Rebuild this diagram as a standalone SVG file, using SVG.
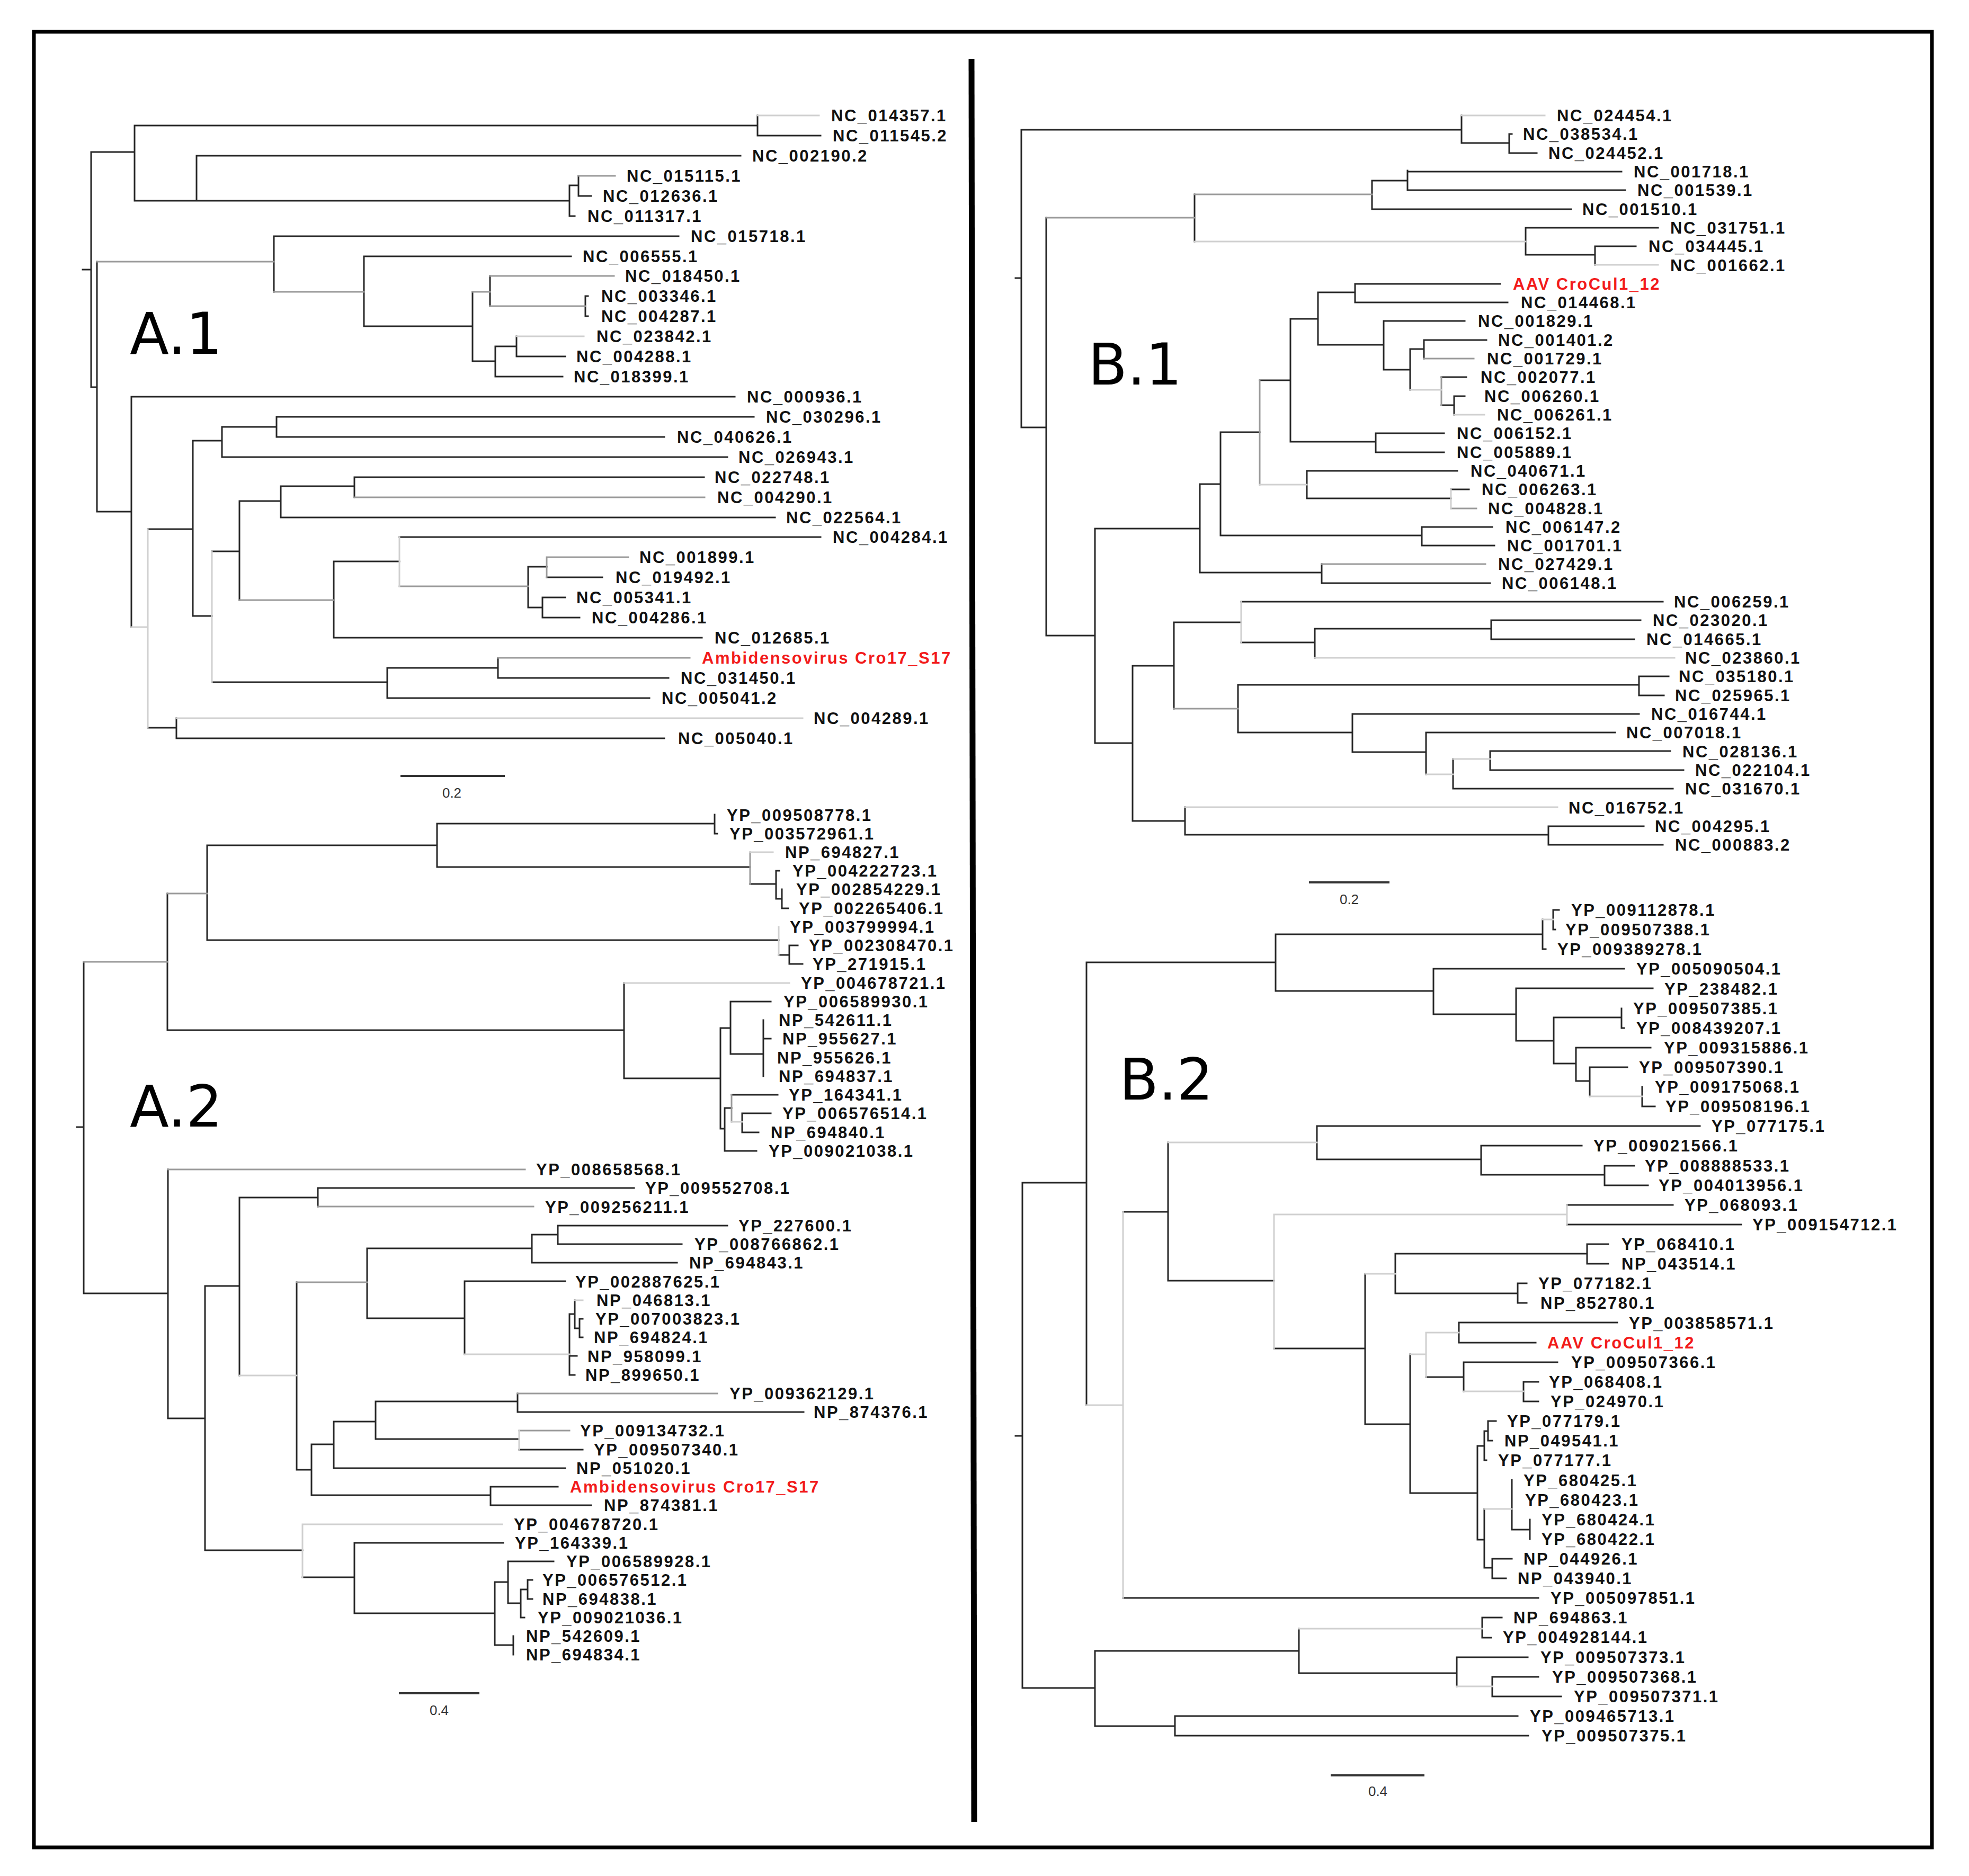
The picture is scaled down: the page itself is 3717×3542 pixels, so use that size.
<svg xmlns="http://www.w3.org/2000/svg" width="3717" height="3542" viewBox="0 0 3717 3542">
<style>
.k{stroke:#262626;stroke-width:3;fill:none;stroke-linecap:square}
.g{stroke:#9a9a9a;stroke-width:3;fill:none;stroke-linecap:square}
.l{stroke:#d0d0d0;stroke-width:3;fill:none;stroke-linecap:square}
.t{font-family:"Liberation Sans",Arial,sans-serif;font-weight:700;font-size:31px;letter-spacing:2.5px;fill:#111}
.r{fill:#f21b1b}
.p{font-family:"DejaVu Sans",sans-serif;font-size:108px;fill:#000}
.s{font-family:"Liberation Sans",Arial,sans-serif;font-size:26px;fill:#333;text-anchor:middle}
.sb{stroke:#333;stroke-width:4;fill:none}
</style>
<rect x="0" y="0" width="3717" height="3542" fill="#fff"/>
<rect id="frame" x="64" y="60" width="3583" height="3428" fill="none" stroke="#000" stroke-width="7"/>
<line id="divider" x1="1834" y1="111" x2="1839" y2="3440" stroke="#000" stroke-width="11"/>
<g id="connectors">
<g id="a1-branches">
<path class="k" d="M156 509H172M172 287V731M172 287H254M172 731H183M183 494V966M183 966H248M254 237V379M254 237H1430M254 379H371M1430 218V256M1430 256H1549M371 294V379M371 294H1398M371 379H1075M1075 350V408M1075 350H1092M1075 408H1085M1092 332V370M1092 370H1116M517 446V551M517 446H1281M687 484V616M687 484H1078M687 616H892M892 551V682M892 682H935M925 521V578M1105 559V597M1105 559H1110M1105 597H1110M935 654V711M935 654H975M935 711H1062M975 635V673M975 673H1067M248 749V1184M248 749H1387M279 999H364M279 1374H333M333 1356V1394M333 1394H1254M364 832V1163M364 832H419M364 1163H400M419 806V863M419 806H522M419 863H1373M522 787V825M522 787H1423M522 825H1254M400 1041H452M400 1288H731M452 946V1133M452 946H530M530 918V977M530 918H669M530 977H1463M669 901V939M669 901H1329M630 1060V1204M630 1060H754M630 1204H1325M754 1014H1549M997 1070V1147M997 1070H1032M997 1147H1024M1032 1090H1137M1024 1128V1166M1024 1128H1067M1024 1166H1094M731 1261V1318M731 1261H940M731 1318H1226M940 1242V1280M940 1280H1262"/>
<path class="g" d="M183 494H517M1092 332H1161M517 551H687M892 551H925M925 521H1159M925 578H1105M669 939H1330M452 1133H630M754 1107H997M1032 1052V1090M1032 1052H1186M940 1242H1302"/>
<path class="l" d="M1430 218H1546M975 635H1102M248 1184H279M279 999V1374M333 1356H1515M754 1014V1107M400 1041V1288"/>
<path class="sb" d="M756 1465H953"/>
</g>
<g id="a2-branches">
<path class="k" d="M145 2128H158M158 1816V2442M158 2442H317M316 1687V1945M316 1945H1178M391 1596V1775M391 1596H825M391 1775H1470M825 1555V1637M825 1555H1349M825 1637H1416M1349 1538V1574M1349 1574H1354M1416 1669H1465M1465 1644V1697M1465 1644H1471M1465 1697H1476M1476 1679V1715M1476 1715H1488M1470 1803H1490M1490 1785V1820M1490 1785H1506M1490 1820H1515M1178 1856V2036M1178 2036H1360M1360 1941V2131M1360 1941H1379M1360 2131H1368M1379 1891V1990M1379 1891H1455M1379 1990H1441M1441 1926V2032M1441 1961H1455M1368 2092V2173M1368 2092H1381M1368 2173H1428M1381 2067H1468M1401 2102V2138M1401 2102H1455M1401 2138H1432M317 2208V2678M317 2678H387M387 2428V2927M387 2428H452M387 2927H571M452 2261V2597M452 2261H600M600 2243V2278M600 2243H1197M560 2421V2775M560 2775H588M693 2357V2489M693 2357H1004M693 2489H877M1004 2331V2384M1004 2331H1053M1004 2384H1278M1053 2314V2349M1053 2314H1373M1053 2349H1287M877 2419V2557M877 2419H1067M1075 2481V2596M1075 2481H1085M1075 2560H1089M1075 2596H1085M1085 2455V2508M1085 2508H1094M1094 2490V2525M1094 2490H1100M1094 2525H1100M588 2727V2823M588 2727H630M588 2823H926M630 2684V2772M630 2684H709M630 2772H1067M709 2646V2717M709 2646H977M709 2717H980M977 2631V2666M977 2666H1517M980 2737H1100M926 2807V2842M926 2807H1053M926 2842H1116M571 2978H669M669 2913V3046M669 2913H950M669 3046H934M934 2987V3106M934 2987H959M934 3106H969M959 2948V3027M959 2948H1045M959 3027H983M983 3001V3054M983 3001H996M983 3054H990M996 2983V3019M996 2983H1005M996 3019H1005M969 3089V3124"/>
<path class="g" d="M158 1816H316M316 1687H391M1416 1609V1669M1381 2067V2118M317 2208H991M600 2278H1007M560 2421H693M977 2631H1354M980 2701H1075"/>
<path class="l" d="M1416 1609H1459M1470 1750V1803M1178 1856H1490M1381 2118H1401M452 2597H560M877 2557H1075M1085 2455H1100M980 2701V2737M571 2878V2978M571 2878H948"/>
<path class="sb" d="M753 3197H905"/>
</g>
<g id="b1-branches">
<path class="k" d="M1917 525H1928M1928 245V807M1928 245H2759M1928 807H1975M2759 218V270M2759 270H2849M2849 253V289M2849 253H2854M2849 289H2901M1975 411V1200M1975 1200H2067M2255 367V456M2590 341V395M2590 341H2657M2590 395H2966M2657 322V359M2657 324H3061M2657 359H3068M2880 430V481M2880 430H3130M2880 481H3011M3011 465V500M3011 465H3088M2067 998V1403M2067 998H2265M2067 1403H2138M2265 914V1081M2265 914H2304M2265 1081H2495M2304 816V1011M2304 816H2378M2304 1011H2684M2378 718H2436M2436 602V834M2436 602H2488M2436 834H2597M2488 552V651M2488 552H2558M2488 651H2612M2558 536V571M2558 536H2832M2558 571H2846M2612 606V698M2612 606H2765M2612 698H2662M2662 659V736M2662 659H2688M2688 642V677M2688 642H2806M2721 712H2768M2721 765H2745M2745 748V783M2745 748H2765M2597 818V854M2597 818H2726M2597 854H2726M2467 889V941M2467 889H2751M2467 941H2739M2739 924H2773M2684 995V1030M2684 995H2817M2684 1030H2821M2495 1065V1101M2495 1101H2813M2138 1257V1550M2138 1257H2216M2138 1550H2237M2216 1175V1338M2216 1175H2343M2343 1136H3139M2343 1213H2482M2482 1187V1242M2482 1187H2815M2815 1171V1207M2815 1171H3097M2815 1207H3085M2337 1293V1383M2337 1293H3094M2337 1383H2553M3094 1277V1313M3094 1277H3150M3094 1313H3141M2553 1348V1420M2553 1348H3094M2553 1420H2692M2692 1383V1462M2692 1383H3049M2743 1433V1489M2743 1489H3158M2813 1418V1454M2813 1418H3153M2813 1454H3178M2237 1524V1576M2237 1576H2923M2923 1560V1595M2923 1560H3103M2923 1595H3139"/>
<path class="g" d="M1975 411H2255M2255 367H2590M2378 718V915M2688 677H2782M2721 712V765M2739 960H2787M2495 1065H2804M2216 1338H2337"/>
<path class="l" d="M2759 218H2916M2255 456H2880M3011 500H3130M2378 915H2467M2662 736H2721M2745 783H2802M2739 924V960M2343 1136V1213M2482 1242H3161M2692 1462H2743M2743 1433H2813M2237 1524H2940"/>
<path class="sb" d="M2471 1666H2623"/>
</g>
<g id="b2-branches">
<path class="k" d="M1917 2711H1930M1930 2233V3187M1930 2233H2051M1930 3187H2067M2051 1817V2653M2051 1817H2408M2408 1764V1871M2408 1764H2912M2408 1871H2706M2912 1736V1792M2912 1792H2918M2932 1718V1755M2932 1718H2943M2932 1755H2936M2706 1829V1915M2706 1829H3066M2706 1915H2862M2862 1866V1965M2862 1866H3120M2862 1965H2933M2933 1921V2008M2933 1921H3061M2933 2008H2975M3061 1904V1941M3061 1941H3066M2975 1978V2041M2975 1978H3116M2975 2041H3001M3001 2015V2070M3001 2015H3072M3100 2052V2089M3100 2089H3124M2120 2288H2205M2120 3017H2904M2205 2157V2418M2205 2418H2405M2486 2126V2189M2486 2126H3209M2486 2189H2796M2796 2163V2218M2796 2163H2986M2796 2218H3029M3029 2201V2238M3029 2201H3085M3029 2238H3111M2405 2546H2577M2958 2275H3158M2958 2312H3287M2577 2405V2689M2577 2689H2662M2634 2367V2442M2634 2367H2996M2634 2442H2865M2996 2349V2386M2996 2349H3036M2996 2386H3036M2865 2423V2460M2865 2423H2882M2865 2460H2882M2662 2557V2819M2662 2819H2789M2692 2600H2763M2754 2497V2535M2754 2497H3053M2754 2535H2899M2763 2572V2627M2763 2572H2940M2876 2609V2646M2876 2609H2904M2876 2646H2904M2789 2730V2907M2789 2730H2802M2789 2907H2802M2802 2702V2757M2802 2702H2809M2802 2757H2806M2809 2683V2720M2809 2683H2824M2809 2720H2817M2802 2849V2960M2802 2960H2817M2854 2794V2888M2854 2888H2888M2888 2869V2906M2817 2943V2980M2817 2943H2854M2817 2980H2843M2067 3117V3259M2067 3117H2452M2067 3259H2218M2452 3075V3159M2452 3159H2750M2798 3054V3092M2798 3054H2835M2798 3092H2815M2750 3129V3184M2750 3129H2884M2817 3166V3203M2817 3166H2904M2817 3203H2947M2218 3240V3277M2218 3240H2865M2218 3277H2885"/>
<path class="l" d="M2051 2653H2120M2912 1736H2932M3001 2070H3100M2120 2288V3017M2205 2157H2486M2405 2293V2546M2405 2293H2958M2958 2275V2312M2577 2405H2634M2662 2557H2692M2692 2516V2600M2692 2516H2754M2763 2627H2876M2802 2849H2854M2452 3075H2798M2750 3184H2817"/>
<path class="sb" d="M2512 3352H2689"/>
</g>
</g>
<g id="panel-labels">
<g id="label-A1"><text class="p" x="245" y="668">A.1</text></g>
<g id="label-A2"><text class="p" x="245" y="2127">A.2</text></g>
<g id="label-B1"><text class="p" x="2054" y="726">B.1</text></g>
<g id="label-B2"><text class="p" x="2113" y="2076">B.2</text></g>
<g id="scale-A1"><text class="s" x="853" y="1506">0.2</text></g>
<g id="scale-A2"><text class="s" x="829" y="3238">0.4</text></g>
<g id="scale-B1"><text class="s" x="2547" y="1707">0.2</text></g>
<g id="scale-B2"><text class="s" x="2601" y="3391">0.4</text></g>
</g>
<g id="a1-nodes">
<g id="a1-1"><text class="t" x="1569" y="229">NC_014357.1</text></g>
<g id="a1-2"><text class="t" x="1572" y="267">NC_011545.2</text></g>
<g id="a1-3"><text class="t" x="1420" y="305">NC_002190.2</text></g>
<g id="a1-4"><text class="t" x="1183" y="343">NC_015115.1</text></g>
<g id="a1-5"><text class="t" x="1138" y="381">NC_012636.1</text></g>
<g id="a1-6"><text class="t" x="1109" y="419">NC_011317.1</text></g>
<g id="a1-7"><text class="t" x="1304" y="457">NC_015718.1</text></g>
<g id="a1-8"><text class="t" x="1100" y="495">NC_006555.1</text></g>
<g id="a1-9"><text class="t" x="1180" y="532">NC_018450.1</text></g>
<g id="a1-10"><text class="t" x="1135" y="570">NC_003346.1</text></g>
<g id="a1-11"><text class="t" x="1135" y="608">NC_004287.1</text></g>
<g id="a1-12"><text class="t" x="1126" y="646">NC_023842.1</text></g>
<g id="a1-13"><text class="t" x="1088" y="684">NC_004288.1</text></g>
<g id="a1-14"><text class="t" x="1083" y="722">NC_018399.1</text></g>
<g id="a1-15"><text class="t" x="1410" y="760">NC_000936.1</text></g>
<g id="a1-16"><text class="t" x="1446" y="798">NC_030296.1</text></g>
<g id="a1-17"><text class="t" x="1278" y="836">NC_040626.1</text></g>
<g id="a1-18"><text class="t" x="1394" y="874">NC_026943.1</text></g>
<g id="a1-19"><text class="t" x="1349" y="912">NC_022748.1</text></g>
<g id="a1-20"><text class="t" x="1354" y="950">NC_004290.1</text></g>
<g id="a1-21"><text class="t" x="1484" y="988">NC_022564.1</text></g>
<g id="a1-22"><text class="t" x="1572" y="1025">NC_004284.1</text></g>
<g id="a1-23"><text class="t" x="1207" y="1063">NC_001899.1</text></g>
<g id="a1-24"><text class="t" x="1162" y="1101">NC_019492.1</text></g>
<g id="a1-25"><text class="t" x="1088" y="1139">NC_005341.1</text></g>
<g id="a1-26"><text class="t" x="1117" y="1177">NC_004286.1</text></g>
<g id="a1-27"><text class="t" x="1349" y="1215">NC_012685.1</text></g>
<g id="a1-28"><text class="t r" x="1325" y="1253">Ambidensovirus Cro17_S17</text></g>
<g id="a1-29"><text class="t" x="1285" y="1291">NC_031450.1</text></g>
<g id="a1-30"><text class="t" x="1249" y="1329">NC_005041.2</text></g>
<g id="a1-31"><text class="t" x="1536" y="1367">NC_004289.1</text></g>
<g id="a1-32"><text class="t" x="1280" y="1405">NC_005040.1</text></g>
</g>
<g id="a2-nodes">
<g id="a2-1"><text class="t" x="1372" y="1550">YP_009508778.1</text></g>
<g id="a2-2"><text class="t" x="1377" y="1585">YP_003572961.1</text></g>
<g id="a2-3"><text class="t" x="1482" y="1620">NP_694827.1</text></g>
<g id="a2-4"><text class="t" x="1496" y="1655">YP_004222723.1</text></g>
<g id="a2-5"><text class="t" x="1503" y="1690">YP_002854229.1</text></g>
<g id="a2-6"><text class="t" x="1508" y="1726">YP_002265406.1</text></g>
<g id="a2-7"><text class="t" x="1491" y="1761">YP_003799994.1</text></g>
<g id="a2-8"><text class="t" x="1527" y="1796">YP_002308470.1</text></g>
<g id="a2-9"><text class="t" x="1534" y="1831">YP_271915.1</text></g>
<g id="a2-10"><text class="t" x="1512" y="1867">YP_004678721.1</text></g>
<g id="a2-11"><text class="t" x="1479" y="1902">YP_006589930.1</text></g>
<g id="a2-12"><text class="t" x="1470" y="1937">NP_542611.1</text></g>
<g id="a2-13"><text class="t" x="1477" y="1972">NP_955627.1</text></g>
<g id="a2-14"><text class="t" x="1467" y="2008">NP_955626.1</text></g>
<g id="a2-15"><text class="t" x="1470" y="2043">NP_694837.1</text></g>
<g id="a2-16"><text class="t" x="1489" y="2078">YP_164341.1</text></g>
<g id="a2-17"><text class="t" x="1477" y="2113">YP_006576514.1</text></g>
<g id="a2-18"><text class="t" x="1455" y="2149">NP_694840.1</text></g>
<g id="a2-19"><text class="t" x="1451" y="2184">YP_009021038.1</text></g>
<g id="a2-20"><text class="t" x="1012" y="2219">YP_008658568.1</text></g>
<g id="a2-21"><text class="t" x="1218" y="2254">YP_009552708.1</text></g>
<g id="a2-22"><text class="t" x="1029" y="2290">YP_009256211.1</text></g>
<g id="a2-23"><text class="t" x="1394" y="2325">YP_227600.1</text></g>
<g id="a2-24"><text class="t" x="1311" y="2360">YP_008766862.1</text></g>
<g id="a2-25"><text class="t" x="1301" y="2395">NP_694843.1</text></g>
<g id="a2-26"><text class="t" x="1086" y="2431">YP_002887625.1</text></g>
<g id="a2-27"><text class="t" x="1126" y="2466">NP_046813.1</text></g>
<g id="a2-28"><text class="t" x="1124" y="2501">YP_007003823.1</text></g>
<g id="a2-29"><text class="t" x="1121" y="2536">NP_694824.1</text></g>
<g id="a2-30"><text class="t" x="1109" y="2572">NP_958099.1</text></g>
<g id="a2-31"><text class="t" x="1105" y="2607">NP_899650.1</text></g>
<g id="a2-32"><text class="t" x="1377" y="2642">YP_009362129.1</text></g>
<g id="a2-33"><text class="t" x="1536" y="2677">NP_874376.1</text></g>
<g id="a2-34"><text class="t" x="1095" y="2712">YP_009134732.1</text></g>
<g id="a2-35"><text class="t" x="1121" y="2748">YP_009507340.1</text></g>
<g id="a2-36"><text class="t" x="1088" y="2783">NP_051020.1</text></g>
<g id="a2-37"><text class="t r" x="1076" y="2818">Ambidensovirus Cro17_S17</text></g>
<g id="a2-38"><text class="t" x="1140" y="2853">NP_874381.1</text></g>
<g id="a2-39"><text class="t" x="970" y="2889">YP_004678720.1</text></g>
<g id="a2-40"><text class="t" x="972" y="2924">YP_164339.1</text></g>
<g id="a2-41"><text class="t" x="1069" y="2959">YP_006589928.1</text></g>
<g id="a2-42"><text class="t" x="1024" y="2994">YP_006576512.1</text></g>
<g id="a2-43"><text class="t" x="1024" y="3030">NP_694838.1</text></g>
<g id="a2-44"><text class="t" x="1015" y="3065">YP_009021036.1</text></g>
<g id="a2-45"><text class="t" x="993" y="3100">NP_542609.1</text></g>
<g id="a2-46"><text class="t" x="993" y="3135">NP_694834.1</text></g>
</g>
<g id="b1-nodes">
<g id="b1-1"><text class="t" x="2939" y="229">NC_024454.1</text></g>
<g id="b1-2"><text class="t" x="2875" y="264">NC_038534.1</text></g>
<g id="b1-3"><text class="t" x="2923" y="300">NC_024452.1</text></g>
<g id="b1-4"><text class="t" x="3084" y="335">NC_001718.1</text></g>
<g id="b1-5"><text class="t" x="3091" y="370">NC_001539.1</text></g>
<g id="b1-6"><text class="t" x="2987" y="406">NC_001510.1</text></g>
<g id="b1-7"><text class="t" x="3153" y="441">NC_031751.1</text></g>
<g id="b1-8"><text class="t" x="3112" y="476">NC_034445.1</text></g>
<g id="b1-9"><text class="t" x="3153" y="512">NC_001662.1</text></g>
<g id="b1-10"><text class="t r" x="2856" y="547">AAV CroCul1_12</text></g>
<g id="b1-11"><text class="t" x="2871" y="582">NC_014468.1</text></g>
<g id="b1-12"><text class="t" x="2790" y="617">NC_001829.1</text></g>
<g id="b1-13"><text class="t" x="2828" y="653">NC_001401.2</text></g>
<g id="b1-14"><text class="t" x="2807" y="688">NC_001729.1</text></g>
<g id="b1-15"><text class="t" x="2795" y="723">NC_002077.1</text></g>
<g id="b1-16"><text class="t" x="2802" y="759">NC_006260.1</text></g>
<g id="b1-17"><text class="t" x="2826" y="794">NC_006261.1</text></g>
<g id="b1-18"><text class="t" x="2750" y="829">NC_006152.1</text></g>
<g id="b1-19"><text class="t" x="2750" y="865">NC_005889.1</text></g>
<g id="b1-20"><text class="t" x="2776" y="900">NC_040671.1</text></g>
<g id="b1-21"><text class="t" x="2797" y="935">NC_006263.1</text></g>
<g id="b1-22"><text class="t" x="2809" y="971">NC_004828.1</text></g>
<g id="b1-23"><text class="t" x="2842" y="1006">NC_006147.2</text></g>
<g id="b1-24"><text class="t" x="2845" y="1041">NC_001701.1</text></g>
<g id="b1-25"><text class="t" x="2828" y="1076">NC_027429.1</text></g>
<g id="b1-26"><text class="t" x="2835" y="1112">NC_006148.1</text></g>
<g id="b1-27"><text class="t" x="3160" y="1147">NC_006259.1</text></g>
<g id="b1-28"><text class="t" x="3120" y="1182">NC_023020.1</text></g>
<g id="b1-29"><text class="t" x="3108" y="1218">NC_014665.1</text></g>
<g id="b1-30"><text class="t" x="3181" y="1253">NC_023860.1</text></g>
<g id="b1-31"><text class="t" x="3169" y="1288">NC_035180.1</text></g>
<g id="b1-32"><text class="t" x="3162" y="1324">NC_025965.1</text></g>
<g id="b1-33"><text class="t" x="3117" y="1359">NC_016744.1</text></g>
<g id="b1-34"><text class="t" x="3070" y="1394">NC_007018.1</text></g>
<g id="b1-35"><text class="t" x="3176" y="1430">NC_028136.1</text></g>
<g id="b1-36"><text class="t" x="3200" y="1465">NC_022104.1</text></g>
<g id="b1-37"><text class="t" x="3181" y="1500">NC_031670.1</text></g>
<g id="b1-38"><text class="t" x="2961" y="1536">NC_016752.1</text></g>
<g id="b1-39"><text class="t" x="3124" y="1571">NC_004295.1</text></g>
<g id="b1-40"><text class="t" x="3162" y="1606">NC_000883.2</text></g>
</g>
<g id="b2-nodes">
<g id="b2-1"><text class="t" x="2966" y="1729">YP_009112878.1</text></g>
<g id="b2-2"><text class="t" x="2955" y="1766">YP_009507388.1</text></g>
<g id="b2-3"><text class="t" x="2940" y="1803">YP_009389278.1</text></g>
<g id="b2-4"><text class="t" x="3089" y="1840">YP_005090504.1</text></g>
<g id="b2-5"><text class="t" x="3142" y="1878">YP_238482.1</text></g>
<g id="b2-6"><text class="t" x="3083" y="1915">YP_009507385.1</text></g>
<g id="b2-7"><text class="t" x="3089" y="1952">YP_008439207.1</text></g>
<g id="b2-8"><text class="t" x="3141" y="1989">YP_009315886.1</text></g>
<g id="b2-9"><text class="t" x="3094" y="2026">YP_009507390.1</text></g>
<g id="b2-10"><text class="t" x="3124" y="2063">YP_009175068.1</text></g>
<g id="b2-11"><text class="t" x="3144" y="2100">YP_009508196.1</text></g>
<g id="b2-12"><text class="t" x="3231" y="2137">YP_077175.1</text></g>
<g id="b2-13"><text class="t" x="3008" y="2174">YP_009021566.1</text></g>
<g id="b2-14"><text class="t" x="3105" y="2212">YP_008888533.1</text></g>
<g id="b2-15"><text class="t" x="3131" y="2249">YP_004013956.1</text></g>
<g id="b2-16"><text class="t" x="3180" y="2286">YP_068093.1</text></g>
<g id="b2-17"><text class="t" x="3308" y="2323">YP_009154712.1</text></g>
<g id="b2-18"><text class="t" x="3061" y="2360">YP_068410.1</text></g>
<g id="b2-19"><text class="t" x="3061" y="2397">NP_043514.1</text></g>
<g id="b2-20"><text class="t" x="2904" y="2434">YP_077182.1</text></g>
<g id="b2-21"><text class="t" x="2908" y="2471">NP_852780.1</text></g>
<g id="b2-22"><text class="t" x="3075" y="2509">YP_003858571.1</text></g>
<g id="b2-23"><text class="t r" x="2921" y="2546">AAV CroCul1_12</text></g>
<g id="b2-24"><text class="t" x="2966" y="2583">YP_009507366.1</text></g>
<g id="b2-25"><text class="t" x="2924" y="2620">YP_068408.1</text></g>
<g id="b2-26"><text class="t" x="2927" y="2657">YP_024970.1</text></g>
<g id="b2-27"><text class="t" x="2845" y="2694">YP_077179.1</text></g>
<g id="b2-28"><text class="t" x="2840" y="2731">NP_049541.1</text></g>
<g id="b2-29"><text class="t" x="2828" y="2768">YP_077177.1</text></g>
<g id="b2-30"><text class="t" x="2876" y="2806">YP_680425.1</text></g>
<g id="b2-31"><text class="t" x="2879" y="2843">YP_680423.1</text></g>
<g id="b2-32"><text class="t" x="2910" y="2880">YP_680424.1</text></g>
<g id="b2-33"><text class="t" x="2910" y="2917">YP_680422.1</text></g>
<g id="b2-34"><text class="t" x="2876" y="2954">NP_044926.1</text></g>
<g id="b2-35"><text class="t" x="2865" y="2991">NP_043940.1</text></g>
<g id="b2-36"><text class="t" x="2927" y="3028">YP_005097851.1</text></g>
<g id="b2-37"><text class="t" x="2857" y="3065">NP_694863.1</text></g>
<g id="b2-38"><text class="t" x="2837" y="3102">YP_004928144.1</text></g>
<g id="b2-39"><text class="t" x="2908" y="3140">YP_009507373.1</text></g>
<g id="b2-40"><text class="t" x="2930" y="3177">YP_009507368.1</text></g>
<g id="b2-41"><text class="t" x="2971" y="3214">YP_009507371.1</text></g>
<g id="b2-42"><text class="t" x="2888" y="3251">YP_009465713.1</text></g>
<g id="b2-43"><text class="t" x="2910" y="3288">YP_009507375.1</text></g>
</g>
</svg>
